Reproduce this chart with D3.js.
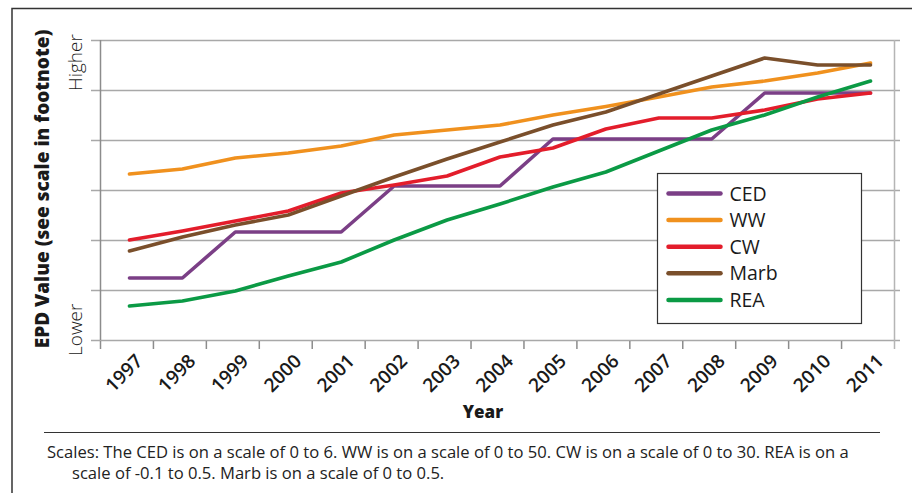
<!DOCTYPE html>
<html>
<head>
<meta charset="utf-8">
<script src="https://cdn.jsdelivr.net/npm/d3@7"></script>
<style>
  body { margin: 0; background: #fff; }
  text { font-family: "Open Sans", Lato, sans-serif; fill: #1a1a1a; }
</style>
</head>
<body>
<div id="chart"></div>
<script>
const years = ['1997', '1998', '1999', '2000', '2001', '2002', '2003', '2004',
  '2005', '2006', '2007', '2008', '2009', '2010', '2011'];

// relative EPD position, each trait rescaled onto a common 0-6 grid
const ced = [1.24, 1.24, 2.16, 2.16, 2.16, 3.08, 3.08, 3.08, 4.02, 4.02, 4.02, 4.02, 4.94, 4.94, 4.94];
const ww = [3.32, 3.42, 3.64, 3.74, 3.88, 4.10, 4.20, 4.30, 4.50, 4.67, 4.86, 5.06, 5.18, 5.34, 5.54];
const cw = [2.0, 2.18, 2.38, 2.58, 2.94, 3.10, 3.28, 3.66, 3.84, 4.22, 4.44, 4.44, 4.60, 4.82, 4.94];
const marb = [1.78, 2.06, 2.30, 2.50, 2.88, 3.26, 3.62, 3.96, 4.30, 4.56, 4.92, 5.28, 5.64, 5.50, 5.50];
const rea = [0.68, 0.78, 0.98, 1.28, 1.56, 2.0, 2.40, 2.72, 3.06, 3.36, 3.78, 4.20, 4.50, 4.86, 5.18];

const seriesNames = ['CED', 'WW', 'CW', 'Marb', 'REA'];
const seriesValues = [ced, ww, cw, marb, rea];
const seriesColors = ['#7b3f86', '#f0911e', '#e31d2b', '#7a4f2b', '#0b9a45'];

const footnote = [
  'Scales: The CED is on a scale of 0 to 6. WW is on a scale of 0 to 50. CW is on a scale of 0 to 30. REA is on a',
  'scale of -0.1 to 0.5. Marb is on a scale of 0 to 0.5.'
];

const width = 912;
const height = 493;
const margin = { top: 40, right: 18, bottom: 153, left: 100 };
const plotW = width - margin.left - margin.right; // 794
const plotH = height - margin.top - margin.bottom; // 300

const svg = d3.select('#chart')
  .append('svg')
  .attr('width', width)
  .attr('height', height);

// outer frame (top + left only)
svg.append('path')
  .attr('d', `M12,${height} V8.5 H${width}`)
  .attr('fill', 'none')
  .attr('stroke', '#333')
  .attr('stroke-width', 1.5);

const x = d3.scaleBand().domain(years).range([0, plotW]);
const y = d3.scaleLinear().domain([0, 6]).range([plotH, 0]);

const g = svg.append('g')
  .attr('transform', `translate(${margin.left},${margin.top})`);

// horizontal grid lines, with little ticks out to the left
g.append('g')
  .selectAll('line')
  .data(d3.range(0, 7))
  .enter()
  .append('line')
  .attr('x1', -9)
  .attr('x2', plotW + 6)
  .attr('y1', d => Math.round(y(d)) + 0.5)
  .attr('y2', d => Math.round(y(d)) + 0.5)
  .attr('stroke', '#a8a8a8')
  .attr('stroke-width', 1.5);

// left and right vertical axis lines
g.append('line')
  .attr('x1', 0.5).attr('x2', 0.5)
  .attr('y1', 0).attr('y2', plotH)
  .attr('stroke', '#8c8c8c').attr('stroke-width', 1.5);
g.append('line')
  .attr('x1', plotW + 0.5).attr('x2', plotW + 0.5)
  .attr('y1', 0).attr('y2', plotH + 9)
  .attr('stroke', '#b5b5b5').attr('stroke-width', 1.5);

// x axis
const xAxis = g.append('g')
  .attr('transform', `translate(0,${plotH + 1})`);
xAxis.append('g')
  .selectAll('line')
  .data(d3.range(0, years.length))
  .enter()
  .append('line')
  .attr('x1', d => x(years[d]) + 0.5)
  .attr('x2', d => x(years[d]) + 0.5)
  .attr('y1', 0)
  .attr('y2', 8)
  .attr('stroke', '#8c8c8c')
  .attr('stroke-width', 1.5);

xAxis.append('g')
  .selectAll('text')
  .data(years)
  .enter()
  .append('text')
  .attr('transform', d => `translate(${x(d) + x.bandwidth() / 2 + 8},${12}) rotate(-45)`)
  .attr('text-anchor', 'end')
  .attr('dy', '0.7em')
  .style('font-size', '19px')
  .style('font-weight', 600)
  .text(d => d);

// series lines
const line = d3.line()
  .x((d, i) => x(years[i]) + x.bandwidth() / 2 + 3)
  .y(d => y(d));

g.append('g')
  .selectAll('path')
  .data(seriesValues)
  .enter()
  .append('path')
  .attr('fill', 'none')
  .attr('stroke', (d, i) => seriesColors[i])
  .attr('stroke-width', 3.6)
  .attr('stroke-linejoin', 'round')
  .attr('stroke-linecap', 'round')
  .attr('d', line);

// legend
const legend = svg.append('g').attr('transform', 'translate(657.5,173.5)');
legend.append('rect')
  .attr('width', 204)
  .attr('height', 150)
  .attr('fill', '#fff')
  .attr('stroke', '#333')
  .attr('stroke-width', 1.2);

const item = legend.selectAll('g.item')
  .data(seriesNames)
  .enter()
  .append('g')
  .attr('class', 'item')
  .attr('transform', (d, i) => `translate(0,${20 + i * 26.6})`);
item.append('line')
  .attr('x1', 11).attr('x2', 63)
  .attr('stroke', (d, i) => seriesColors[i])
  .attr('stroke-width', 4.5)
  .attr('stroke-linecap', 'round');
item.append('text')
  .attr('x', 72)
  .attr('dy', '0.36em')
  .style('font-size', '19.5px')
  .text(d => d);

// axis titles
svg.append('text')
  .attr('transform', 'translate(49,189) rotate(-90)')
  .attr('text-anchor', 'middle')
  .style('font-size', '19px')
  .style('font-weight', 800)
  .text('EPD Value (see scale in footnote)');

svg.append('text')
  .attr('transform', 'translate(82,91) rotate(-90)')
  .style('font-size', '19px')
  .style('font-weight', 300)
  .text('Higher');

svg.append('text')
  .attr('transform', 'translate(82,356) rotate(-90)')
  .style('font-size', '19px')
  .style('font-weight', 300)
  .text('Lower');

svg.append('text')
  .attr('x', 483)
  .attr('y', 418)
  .attr('text-anchor', 'middle')
  .style('font-size', '17px')
  .style('font-weight', 800)
  .text('Year');

// footnote rule and text
svg.append('line')
  .attr('x1', 44).attr('x2', 880)
  .attr('y1', 432.5).attr('y2', 432.5)
  .attr('stroke', '#333')
  .attr('stroke-width', 1.2);

svg.append('g')
  .selectAll('text')
  .data(footnote)
  .enter()
  .append('text')
  .attr('x', (d, i) => (i === 0 ? 47 : 72))
  .attr('y', (d, i) => 458 + i * 21)
  .style('font-size', '16.6px')
  .style('fill', '#222')
  .text(d => d);
</script>
</body>
</html>
